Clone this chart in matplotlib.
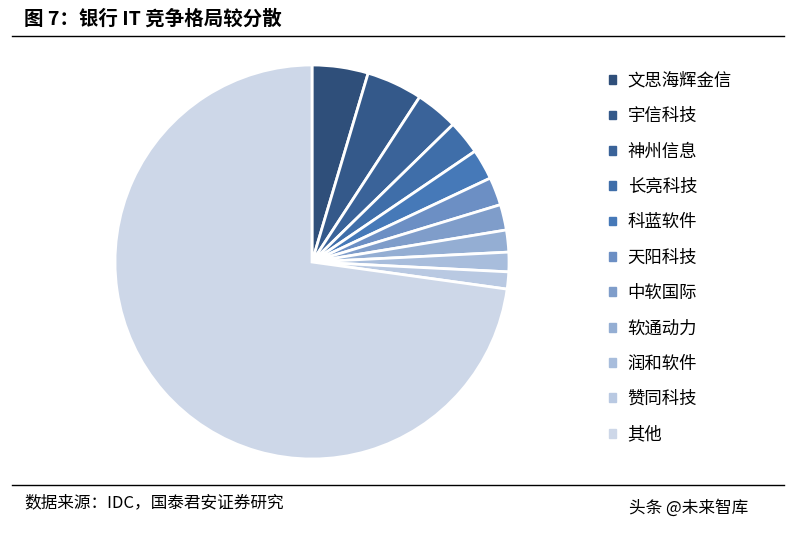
import matplotlib
matplotlib.use("Agg")
import matplotlib.pyplot as plt
plt.rcParams['font.family'] = ['Noto Sans CJK SC', 'DejaVu Sans']

labels = ["文思海辉金信","宇信科技","神州信息","长亮科技","科蓝软件","天阳科技","中软国际","软通动力","润和软件","赞同科技","其他"]
values = [4.6, 4.6, 3.5, 2.8, 2.5, 2.3, 2.1, 1.8, 1.6, 1.4, 72.8]
colors = ["#2f4f7a","#34598a","#3a6399","#3f6ea9","#4679b8","#6c8fc4","#7f9dca","#94aed3","#a8bddc","#b9c9e2","#cdd7e8"]

fig = plt.figure(figsize=(7.96,5.35), dpi=100)
w = 396/796; h = 396/535
ax = fig.add_axes([312/796 - w/2, (535-262)/535 - h/2, w, h])
ax.pie(values, colors=colors, startangle=90, counterclock=False,
       wedgeprops=dict(edgecolor='white', linewidth=2))
ax.set_xlim(-1.005, 1.005); ax.set_ylim(-1.005, 1.005)
ax.set_aspect('equal')
handles = [plt.Rectangle((0,0),1,1,color=c) for c in colors]
fig.legend(handles, labels, loc='upper left', bbox_to_anchor=(0.745, 0.895),
           frameon=False, fontsize=12.5, handlelength=0.4, handleheight=0.4,
           labelspacing=1.0, handletextpad=0.7)
fig.text(0.03, 0.965, "图 7：银行 IT 竞争格局较分散", fontsize=14, fontweight='bold', va='center')
fig.add_artist(plt.Line2D([0.015,0.985],[0.932,0.932], color='black', lw=1))
fig.add_artist(plt.Line2D([0.015,0.985],[0.093,0.093], color='black', lw=1))
fig.text(0.03, 0.06, "数据来源：IDC，国泰君安证券研究", fontsize=12, va='center')
fig.text(0.79, 0.05, "头条 @未来智库", fontsize=12, va='center')
fig.savefig("out.png", dpi=100)
